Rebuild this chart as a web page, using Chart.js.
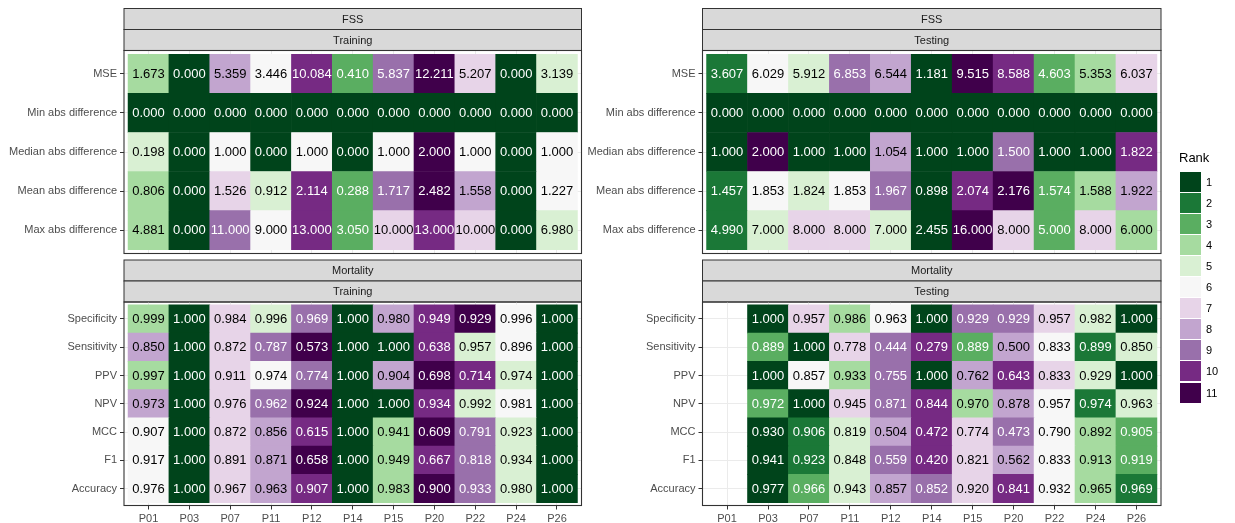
<!DOCTYPE html>
<html>
<head>
<meta charset="utf-8">
<script src="https://cdn.jsdelivr.net/npm/chart.js@4.4.1/dist/chart.umd.min.js"></script>
<style>
  html, body { margin: 0; padding: 0; background: #ffffff; }
  body { width: 1235px; height: 523px; position: relative; overflow: hidden;
         font-family: "Liberation Sans", Arial, Helvetica, sans-serif; }
  canvas { position: absolute; }
  .legend-title { position: absolute; left: 1179px; top: 150px; font-size: 13px; line-height: 16px; color: #000; }
  .legend-key { position: absolute; left: 1180px; width: 21px; height: 20px; }
  .legend-label { position: absolute; left: 1206px; font-size: 11px; line-height: 20px; color: #000; }
</style>
</head>
<body>
<canvas id="fssTraining" width="600" height="258" style="left:0px;top:0px"></canvas>
<canvas id="fssTesting" width="595" height="258" style="left:585px;top:0px"></canvas>
<canvas id="mortalityTraining" width="600" height="265" style="left:0px;top:258px"></canvas>
<canvas id="mortalityTesting" width="595" height="265" style="left:585px;top:258px"></canvas>
<div id="legend"></div>

<script>
// Participants along the x axis
const participants = ['P01', 'P03', 'P07', 'P11', 'P12', 'P14', 'P15', 'P20', 'P22', 'P24', 'P26'];

// Metric rows
const fssMetrics = ['MSE', 'Min abs difference', 'Median abs difference', 'Mean abs difference', 'Max abs difference'];
const mortalityMetrics = ['Specificity', 'Sensitivity', 'PPV', 'NPV', 'MCC', 'F1', 'Accuracy'];

// Rank scale (1 = best)
const rankLabels = ['1', '2', '3', '4', '5', '6', '7', '8', '9', '10', '11'];
const rankColours = ['#00441b', '#1b7837', '#5aae61', '#a6dba0', '#d9f0d3', '#f7f7f7',
                     '#e7d4e8', '#c2a5cf', '#9970ab', '#762a83', '#40004b'];

// FSS – training
const fssTrainingValues = [
  [1.673, 0.000, 5.359, 3.446, 10.084, 0.410, 5.837, 12.211, 5.207, 0.000, 3.139],
  [0.000, 0.000, 0.000, 0.000, 0.000, 0.000, 0.000, 0.000, 0.000, 0.000, 0.000],
  [0.198, 0.000, 1.000, 0.000, 1.000, 0.000, 1.000, 2.000, 1.000, 0.000, 1.000],
  [0.806, 0.000, 1.526, 0.912, 2.114, 0.288, 1.717, 2.482, 1.558, 0.000, 1.227],
  [4.881, 0.000, 11.000, 9.000, 13.000, 3.050, 10.000, 13.000, 10.000, 0.000, 6.980]
];
const fssTrainingRanks = [
  [4, 1, 8, 6, 10, 3, 9, 11, 7, 1, 5],
  [1, 1, 1, 1, 1, 1, 1, 1, 1, 1, 1],
  [5, 1, 6, 1, 6, 1, 6, 11, 6, 1, 6],
  [4, 1, 7, 5, 10, 3, 9, 11, 8, 1, 6],
  [4, 1, 9, 6, 10, 3, 7, 10, 7, 1, 5]
];

// FSS – testing
const fssTestingValues = [
  [3.607, 6.029, 5.912, 6.853, 6.544, 1.181, 9.515, 8.588, 4.603, 5.353, 6.037],
  [0.000, 0.000, 0.000, 0.000, 0.000, 0.000, 0.000, 0.000, 0.000, 0.000, 0.000],
  [1.000, 2.000, 1.000, 1.000, 1.054, 1.000, 1.000, 1.500, 1.000, 1.000, 1.822],
  [1.457, 1.853, 1.824, 1.853, 1.967, 0.898, 2.074, 2.176, 1.574, 1.588, 1.922],
  [4.990, 7.000, 8.000, 8.000, 7.000, 2.455, 16.000, 8.000, 5.000, 8.000, 6.000]
];
const fssTestingRanks = [
  [2, 6, 5, 9, 8, 1, 11, 10, 3, 4, 7],
  [1, 1, 1, 1, 1, 1, 1, 1, 1, 1, 1],
  [1, 11, 1, 1, 8, 1, 1, 9, 1, 1, 10],
  [2, 6, 5, 6, 9, 1, 10, 11, 3, 4, 8],
  [2, 5, 7, 7, 5, 1, 11, 7, 3, 7, 4]
];

// Mortality – training
const mortalityTrainingValues = [
  [0.999, 1.000, 0.984, 0.996, 0.969, 1.000, 0.980, 0.949, 0.929, 0.996, 1.000],
  [0.850, 1.000, 0.872, 0.787, 0.573, 1.000, 1.000, 0.638, 0.957, 0.896, 1.000],
  [0.997, 1.000, 0.911, 0.974, 0.774, 1.000, 0.904, 0.698, 0.714, 0.974, 1.000],
  [0.973, 1.000, 0.976, 0.962, 0.924, 1.000, 1.000, 0.934, 0.992, 0.981, 1.000],
  [0.907, 1.000, 0.872, 0.856, 0.615, 1.000, 0.941, 0.609, 0.791, 0.923, 1.000],
  [0.917, 1.000, 0.891, 0.871, 0.658, 1.000, 0.949, 0.667, 0.818, 0.934, 1.000],
  [0.976, 1.000, 0.967, 0.963, 0.907, 1.000, 0.983, 0.900, 0.933, 0.980, 1.000]
];
const mortalityTrainingRanks = [
  [4, 1, 7, 5, 9, 1, 8, 10, 11, 6, 1],
  [8, 1, 7, 9, 11, 1, 1, 10, 5, 6, 1],
  [4, 1, 7, 6, 9, 1, 8, 11, 10, 5, 1],
  [8, 1, 7, 9, 11, 1, 1, 10, 5, 6, 1],
  [6, 1, 7, 8, 10, 1, 4, 11, 9, 5, 1],
  [6, 1, 7, 8, 11, 1, 4, 10, 9, 5, 1],
  [6, 1, 7, 8, 10, 1, 4, 11, 9, 5, 1]
];

// Mortality – testing (no result for P01)
const mortalityTestingValues = [
  [null, 1.000, 0.957, 0.986, 0.963, 1.000, 0.929, 0.929, 0.957, 0.982, 1.000],
  [null, 0.889, 1.000, 0.778, 0.444, 0.279, 0.889, 0.500, 0.833, 0.899, 0.850],
  [null, 1.000, 0.857, 0.933, 0.755, 1.000, 0.762, 0.643, 0.833, 0.929, 1.000],
  [null, 0.972, 1.000, 0.945, 0.871, 0.844, 0.970, 0.878, 0.957, 0.974, 0.963],
  [null, 0.930, 0.906, 0.819, 0.504, 0.472, 0.774, 0.473, 0.790, 0.892, 0.905],
  [null, 0.941, 0.923, 0.848, 0.559, 0.420, 0.821, 0.562, 0.833, 0.913, 0.919],
  [null, 0.977, 0.966, 0.943, 0.857, 0.852, 0.920, 0.841, 0.932, 0.965, 0.969]
];
const mortalityTestingRanks = [
  [null, 1, 7, 4, 6, 1, 9, 9, 7, 5, 1],
  [null, 3, 1, 7, 9, 10, 3, 8, 6, 2, 5],
  [null, 1, 6, 4, 9, 1, 8, 10, 7, 5, 1],
  [null, 3, 1, 7, 9, 10, 4, 8, 6, 2, 5],
  [null, 1, 2, 5, 8, 10, 7, 9, 6, 4, 3],
  [null, 1, 2, 5, 9, 10, 7, 8, 6, 4, 3],
  [null, 1, 3, 5, 8, 9, 7, 10, 6, 4, 2]
];

const FONT = '"Liberation Sans", Arial, Helvetica, sans-serif';
const STRIP_H = 21;

// Dark tiles get white text, light tiles black text
function textColourFor(rank) {
  return (rank <= 3 || rank >= 9) ? '#ffffff' : '#000000';
}

// Facet strips, cell value labels and the panel frame
const panelDecor = {
  id: 'panelDecor',
  beforeDraw(chart, args, opts) {
    const { ctx, chartArea: a } = chart;
    ctx.save();
    opts.strips.forEach((label, i) => {
      const top = a.top - STRIP_H * (opts.strips.length - i);
      ctx.fillStyle = '#d9d9d9';
      ctx.fillRect(a.left, top, a.right - a.left, STRIP_H);
      ctx.strokeStyle = '#333333';
      ctx.lineWidth = 1;
      ctx.strokeRect(a.left, top, a.right - a.left, STRIP_H);
      ctx.fillStyle = '#1a1a1a';
      ctx.font = '11px ' + FONT;
      ctx.textAlign = 'center';
      ctx.textBaseline = 'middle';
      ctx.fillText(label, (a.left + a.right) / 2, top + STRIP_H / 2 + 0.5);
    });
    ctx.restore();
  },
  afterDatasetsDraw(chart) {
    const { ctx, chartArea: a } = chart;
    const meta = chart.getDatasetMeta(0);
    const cells = chart.data.datasets[0].data;
    ctx.save();
    ctx.font = '13px ' + FONT;
    ctx.textAlign = 'center';
    ctx.textBaseline = 'middle';
    meta.data.forEach((bar, i) => {
      const cell = cells[i];
      const c = bar.getCenterPoint();
      ctx.fillStyle = textColourFor(cell.rank);
      ctx.fillText(cell.v.toFixed(3), c.x, c.y + 0.5);
    });
    ctx.strokeStyle = '#333333';
    ctx.lineWidth = 1.1;
    ctx.strokeRect(a.left, a.top, a.right - a.left, a.bottom - a.top);
    ctx.restore();
  }
};

function buildPanel(id, cfg) {
  const n = cfg.metrics.length;
  const cells = [];
  cfg.values.forEach((row, r) => {
    row.forEach((v, c) => {
      if (v === null) return;
      cells.push({ x: c + 1, y: [r + 0.5, r + 1.5], v: v, rank: cfg.ranks[r][c] });
    });
  });

  return new Chart(document.getElementById(id), {
    type: 'bar',
    data: {
      datasets: [{
        data: cells,
        backgroundColor: (ctx) => ctx.raw ? rankColours[ctx.raw.rank - 1] : '#cccccc',
        borderWidth: 0,
        categoryPercentage: 1,
        barPercentage: 1
      }]
    },
    options: {
      responsive: false,
      maintainAspectRatio: false,
      animation: false,
      devicePixelRatio: 1,
      layout: { padding: cfg.padding },
      plugins: {
        legend: { display: false },
        tooltip: { enabled: false },
        panelDecor: { strips: cfg.strips }
      },
      scales: {
        x: {
          type: 'linear',
          offset: false,
          min: 0.4,
          max: participants.length + 0.6,
          afterBuildTicks: (ax) => { ax.ticks = participants.map((_, i) => ({ value: i + 1 })); },
          afterFit: (ax) => {
            ax.height = cfg.xHeight;
            ax.paddingLeft = 0;
            ax.paddingRight = 0;
          },
          border: { display: false },
          grid: {
            offset: false,
            color: '#ebebeb',
            lineWidth: 1,
            drawTicks: cfg.showX,
            tickLength: 4,
            tickColor: '#333333',
            tickWidth: 1
          },
          ticks: {
            display: cfg.showX,
            autoSkip: false,
            maxRotation: 0,
            padding: 3,
            color: '#4d4d4d',
            font: { family: FONT, size: 11 },
            callback: (v) => participants[v - 1]
          }
        },
        y: {
          type: 'linear',
          reverse: true,
          offset: false,
          min: 0.4,
          max: n + 0.6,
          afterBuildTicks: (ax) => { ax.ticks = cfg.metrics.map((_, i) => ({ value: i + 1 })); },
          afterFit: (ax) => {
            ax.width = cfg.yWidth;
            ax.paddingTop = 0;
            ax.paddingBottom = 0;
          },
          border: { display: false },
          grid: {
            offset: false,
            color: '#ebebeb',
            lineWidth: 1,
            drawTicks: true,
            tickLength: 4,
            tickColor: '#333333',
            tickWidth: 1
          },
          ticks: {
            padding: 3,
            color: '#4d4d4d',
            font: { family: FONT, size: 11 },
            callback: (v) => cfg.metrics[v - 1]
          }
        }
      }
    },
    plugins: [panelDecor]
  });
}

buildPanel('fssTraining', {
  metrics: fssMetrics, values: fssTrainingValues, ranks: fssTrainingRanks,
  strips: ['FSS', 'Training'], showX: false, xHeight: 0, yWidth: 124,
  padding: { top: 50.5, left: 0, right: 18.5, bottom: 4.5 }
});
buildPanel('fssTesting', {
  metrics: fssMetrics, values: fssTestingValues, ranks: fssTestingRanks,
  strips: ['FSS', 'Testing'], showX: false, xHeight: 0, yWidth: 117.5,
  padding: { top: 50.5, left: 0, right: 19, bottom: 4.5 }
});
buildPanel('mortalityTraining', {
  metrics: mortalityMetrics, values: mortalityTrainingValues, ranks: mortalityTrainingRanks,
  strips: ['Mortality', 'Training'], showX: true, xHeight: 17.5, yWidth: 124,
  padding: { top: 44, left: 0, right: 18.5, bottom: 0 }
});
buildPanel('mortalityTesting', {
  metrics: mortalityMetrics, values: mortalityTestingValues, ranks: mortalityTestingRanks,
  strips: ['Mortality', 'Testing'], showX: true, xHeight: 17.5, yWidth: 117.5,
  padding: { top: 44, left: 0, right: 19, bottom: 0 }
});

// Rank legend
(function buildLegend() {
  const box = document.getElementById('legend');
  const title = document.createElement('div');
  title.className = 'legend-title';
  title.textContent = 'Rank';
  box.appendChild(title);
  rankLabels.forEach((label, i) => {
    const top = 171.5 + i * 21.1;
    const key = document.createElement('div');
    key.className = 'legend-key';
    key.style.top = top + 'px';
    key.style.background = rankColours[i];
    box.appendChild(key);
    const txt = document.createElement('div');
    txt.className = 'legend-label';
    txt.style.top = top + 'px';
    txt.textContent = label;
    box.appendChild(txt);
  });
})();
</script>
</body>
</html>
